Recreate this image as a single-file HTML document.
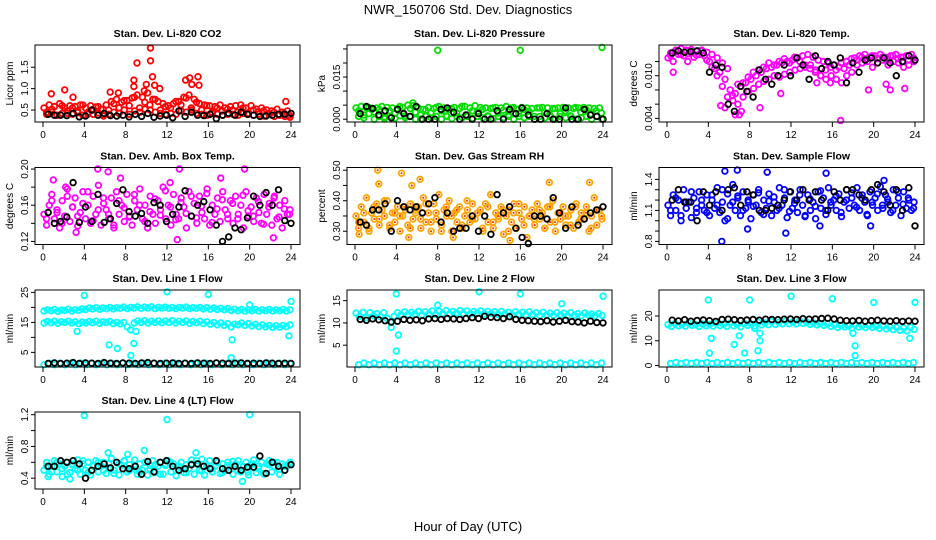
<!DOCTYPE html>
<html><head><meta charset="utf-8"><style>
html,body{margin:0;padding:0;background:#fff;width:936px;height:540px;overflow:hidden}
svg{display:block;font-family:"Liberation Sans",sans-serif}
</style></head><body>
<svg id="chart" width="936" height="540" viewBox="0 0 936 540" xmlns="http://www.w3.org/2000/svg">
<text x="468" y="14" text-anchor="middle" font-size="13">NWR_150706 Std. Dev. Diagnostics</text>
<text x="468" y="531" text-anchor="middle" font-size="13">Hour of Day (UTC)</text>
</svg>
<script>
const xTicks=[0,4,8,12,16,20,24];
// Panel 1 CO2
const co2Main=[.55,.40,.62,.45,.58,.38,.65,.42,.55,.48,.60,.40,.58,.44,.62,.38,.55,.45,.60,.40,.57,.43,.52,.38,.62,.40,.70,.45,.75,.42,.68,.50,.72,.40,.78,.48,.85,.45,.80,.52,.90,.50,.75,.45,.70,.42,.65,.40,.60,.42,.65,.40,.70,.48,.80,.45,.85,.50,.75,.42,.65,.40,.62,.38,.60,.42,.58,.40,.62,.38,.55,.40,.58,.40,.60,.38,.62,.42,.55,.40,.60,.38,.52,.40,.55,.36,.50,.40,.48,.35,.52,.38,.45,.35,.48,.33];
const co2Second=[.45,.52,.38,.60,.42,.55,.48,.62,.40,.50,.58,.36,.50,.65,.55,.72,.60,.80,.55,.68,.62,.75,.50,.58,.55,.70,.62,.78,.55,.68,.50,.60,.45,.55,.48,.52,.50,.45,.55,.42,.50,.46,.48,.42,.45,.40,.42,.38];
const co2Black=[.40,.38,.38,.37,.42,.34,.36,.50,.38,.42,.37,.36,.38,.34,.40,.35,.42,.33,.36,.38,.32,.48,.35,.45,.38,.37,.40,.30,.38,.42,.38,.45,.40,.38,.35,.36,.38,.40,.40,.42];
const co2OutHours=[0.8,2.1,2.9,7.3,8.8,8.8,9.1,9.8,10,10.4,10.4,10.6,10.8,11.3,13.8,14.2,14.4,15,15.1,23.5,6.5];
const co2OutVals=[0.88,0.97,0.8,0.9,1.2,1.05,1.6,0.95,1.1,1.95,1.65,1.28,1.08,1.0,1.2,1.25,1.1,1.28,1.08,0.7,0.92];
// Panel 2 pressure
const presMain=[.004,.001,.0045,.0005,.004,.002,.0035,0,.004,.001,.0045,.0002,.0042,.001,.004,.0003,.0038,.0012,.0042,.0005,.005,.001,.0048,0,.004,0,.0035,.001,.0042,.0005,.0038,.001,.0045,0,.004,.001,.0035,.0002,.0042,.001,.0038,.0005,.0045,.001,.004,.0003,.0048,.001,.0042,.0005,.004,.001,.0038,.0002,.0042,.001,.004,.0005,.0045,.001,.004,0,.0035,.001,.0042,.0005,.004,.001,.0038,0,.004,.001,.0042,.0005,.004,.001,.0038,0,.004,.001,.0042,.0005,.004,.001,.0038,0,.004,.0005,.0042,.001,.004,0,.0038,.001,.004,0];
const presSecond=[.003,.0015,.0042,.0025,.0035,.0008,.003,.002,.0045,.0012,.0038,.0025,.0015,.0032,.0022,.0042,.003,.0012,.0038,.0022,.0045,.0015,.003,.0025,.0035,.0012,.004,.0022,.0032,.0015,.0042,.002,.0035,.0028,.001,.004,.0025,.0015,.0038,.002,.003,.0012,.0042,.0025,.0035,.0018,.003,.0022];
const presBlack=[.002,.0045,.0038,.0015,.003,.0005,.0035,.002,.001,.0045,0,0,0,.0035,.004,.0025,0,.0015,0,.002,0,0,.003,0,.0035,.002,.004,.0015,0,0,.002,0,0,.004,0,0,.0035,.0015,.001,0];
const presOutHours=[8,16,23.9,5.6];
const presOutVals=[0.0245,0.0245,0.0255,0.0058];
// Panel 3 Li-820 temp
const ltMain=[.0125,.0132,.0120,.0136,.0130,.0138,.0128,.0135,.0131,.0137,.0126,.0134,.0130,.0136,.0128,.0133,.0120,.0130,.0110,.0125,.0105,.0118,.0095,.0110,.0080,.0065,.0075,.0060,.0085,.0070,.0090,.0078,.0095,.0082,.0100,.0088,.0105,.0092,.0110,.0095,.0112,.0100,.0115,.0098,.0118,.0102,.0120,.0105,.0122,.0108,.0125,.0110,.0128,.0112,.0130,.0115,.0126,.0108,.0122,.0100,.0120,.0095,.0118,.0100,.0115,.0095,.0112,.0090,.0110,.0100,.0115,.0105,.0125,.0115,.0128,.0118,.0130,.0120,.0126,.0112,.0128,.0118,.0130,.0122,.0126,.0115,.0128,.0120,.0130,.0118,.0126,.0112,.0128,.0115,.0130,.0120];
const ltSecond=[.0128,.0134,.0130,.0136,.0132,.0129,.0135,.0122,.0112,.0100,.0085,.0070,.0072,.0088,.0090,.0098,.0105,.0108,.0112,.0118,.0115,.0120,.0124,.0118,.0126,.0120,.0115,.0110,.0105,.0100,.0108,.0112,.0108,.0118,.0120,.0124,.0122,.0126,.0124,.0128,.0124,.0126,.0122,.0128,.0124,.0126,.0122,.0125];
const ltBlack=[.0132,.0135,.0133,.0134,.0135,.0132,.0105,.0115,.0112,.0060,.0050,.0085,.0078,.0070,.0108,.0095,.0088,.0100,.0115,.0100,.0125,.0115,.0095,.0128,.0110,.0120,.0115,.0125,.0090,.0118,.0105,.0122,.0125,.0118,.0125,.0118,.0100,.0120,.0128,.0122];
const ltOutHours=[0.6,5.2,5.6,6.6,7,7.2,9,11,16.8,15.8,14.5,19.5,21.2,21.6,23,2];
const ltOutVals=[.0105,.0058,.0055,.0045,.0045,.005,.0055,.0075,.0037,.009,.009,.008,.0088,.008,.0082,.012];
// Panel 4 amb box temp
const abMain=[.150,.138,.160,.172,.145,.155,.135,.165,.148,.178,.142,.158,.168,.137,.152,.175,.145,.160,.140,.170,.150,.182,.138,.162,.155,.145,.168,.135,.175,.150,.160,.142,.172,.148,.138,.165,.155,.178,.145,.160,.135,.170,.150,.140,.165,.155,.180,.145,.160,.138,.172,.150,.145,.168,.158,.135,.175,.148,.162,.140,.170,.152,.145,.178,.138,.160,.150,.168,.142,.175,.155,.145,.165,.140,.170,.150,.160,.135,.175,.148,.158,.142,.168,.152,.140,.172,.150,.162,.138,.170,.145,.160,.135,.165,.150,.155];
const abSecond=[.145,.165,.152,.140,.170,.158,.148,.162,.175,.143,.155,.168,.150,.138,.165,.157,.147,.172,.160,.142,.153,.167,.149,.176,.158,.144,.163,.151,.170,.146,.159,.173,.141,.156,.166,.150,.162,.145,.171,.154,.148,.164,.139,.158,.168,.147,.156,.150];
const abBlack=[.152,.140,.142,.147,.185,.141,.158,.142,.172,.141,.145,.162,.177,.153,.148,.151,.140,.163,.160,.142,.150,.158,.176,.148,.160,.164,.155,.138,.120,.125,.135,.133,.146,.170,.160,.174,.160,.177,.143,.140];
const abOutHours=[1,2.2,3.2,5.3,6.3,13.2,13,19.5,22.3,17.2,12.3,7.5];
const abOutVals=[.188,.18,.13,.2,.197,.2,.122,.2,.124,.19,.185,.19];
// Panel 5 RH
const rhMain=[.35,.31,.38,.33,.41,.30,.36,.34,.39,.32,.37,.35,.40,.31,.36,.33,.38,.30,.35,.37,.32,.39,.34,.36,.38,.31,.41,.33,.36,.30,.39,.34,.42,.32,.37,.35,.40,.30,.36,.33,.38,.31,.35,.37,.33,.39,.34,.36,.37,.30,.39,.33,.42,.31,.36,.34,.38,.29,.35,.37,.33,.39,.31,.36,.34,.38,.28,.35,.37,.32,.39,.34,.36,.31,.38,.33,.40,.30,.36,.34,.38,.32,.35,.37,.31,.39,.33,.36,.34,.38,.30,.35,.41,.32,.37,.34];
const rhSecond=[.33,.36,.31,.38,.34,.40,.32,.36,.35,.38,.31,.37,.34,.39,.33,.36,.30,.38,.35,.37,.32,.40,.34,.36,.31,.38,.33,.35,.37,.30,.36,.39,.32,.35,.34,.37,.31,.38,.33,.36,.35,.32,.38,.34,.36,.31,.37,.35];
const rhBlack=[.33,.32,.37,.37,.39,.30,.40,.38,.37,.38,.36,.39,.41,.33,.36,.30,.31,.31,.35,.30,.35,.29,.42,.36,.38,.31,.28,.26,.35,.35,.34,.41,.36,.31,.38,.32,.34,.36,.37,.38];
const rhOutHours=[0.4,2.2,2.3,4.5,5.5,6.3,9.5,18.8,22.7,15,5.2];
const rhOutVals=[.29,.5,.455,.49,.45,.47,.28,.46,.46,.27,.28];
// Panel 6 sample flow
const sfMain=[1.15,1.05,1.25,1.10,1.20,1.00,1.30,1.12,1.18,1.03,1.22,1.08,1.28,1.15,1.10,1.25,1.05,1.20,1.12,1.32,1.08,1.18,1.00,1.26,1.15,1.35,1.10,1.22,1.05,1.28,1.12,1.18,1.02,1.25,1.15,1.30,1.08,1.20,1.12,1.26,1.05,1.18,1.10,1.32,1.15,1.22,1.03,1.28,1.12,1.20,1.08,1.30,1.15,1.05,1.25,1.10,1.18,1.02,1.28,1.12,1.22,1.06,1.32,1.15,1.20,1.10,1.26,1.04,1.18,1.30,1.12,1.22,1.15,1.32,1.10,1.25,1.18,1.05,1.28,1.15,1.22,1.10,1.33,1.12,1.25,1.18,1.08,1.30,1.15,1.22,1.05,1.28,1.12,1.20,1.10,1.18];
const sfSecond=[1.10,1.22,1.05,1.18,1.28,1.12,1.20,1.08,1.25,1.15,1.30,1.02,1.18,1.24,1.10,1.20,1.14,1.27,1.06,1.19,1.23,1.12,1.30,1.09,1.17,1.25,1.04,1.21,1.14,1.29,1.10,1.18,1.24,1.08,1.20,1.27,1.13,1.22,1.06,1.18,1.26,1.15,1.21,1.10,1.28,1.16,1.22,1.12];
const sfBlack=[1.2,1.3,1.18,1.18,1.0,1.28,1.15,1.28,1.1,1.3,1.32,1.15,1.28,1.25,1.1,1.1,1.12,1.15,1.2,1.28,1.2,1.3,1.2,1.28,1.2,1.1,1.28,1.2,1.3,1.3,1.25,1.2,1.3,1.35,1.28,1.15,1.3,1.1,1.32,0.95];
const sfOutHours=[5.3,5.6,6.8,9.7,15.4,7.8,11.5,14.8,19.7,21];
const sfOutVals=[0.8,1.48,1.49,1.47,1.46,0.92,0.88,0.95,0.95,1.39];
// Panel 7 line 1
const l1Upper=[18.8,19.2,18.9,19.3,18.7,19.1,19.0,19.4,18.8,19.2,19.0,19.5,19.3,19.8,19.5,19.9,19.4,19.8,19.6,20.0,19.5,19.9,19.7,20.1,19.6,20.0,19.8,20.2,19.7,20.1,19.8,20.2,19.6,20.0,19.8,20.1,19.7,20.0,19.6,20.0,19.8,20.1,19.6,19.9,19.7,20.0,19.5,19.9,19.4,19.8,19.3,19.7,19.2,19.6,19.0,19.4,18.9,19.3,18.8,19.2,18.9,19.3,18.8,19.2,18.9,19.3,18.8,19.2,18.9,19.3,18.8,19.2];
const l1Middle=[14.8,15.3,14.9,15.4,14.7,15.2,15.0,15.4,14.8,15.2,14.6,15.1,14.8,15.3,14.9,15.4,14.7,15.2,15.0,15.3,14.6,15.0,14.5,15.0,13.5,12.5,14.8,15.5,15.0,15.6,14.8,15.4,15.0,15.5,14.9,15.5,15.0,15.6,14.8,15.4,15.0,15.5,14.7,15.3,14.9,15.4,14.6,15.2,14.4,15.0,14.2,14.8,14.0,14.6,13.5,14.4,14.2,14.8,14.0,14.6,13.8,14.4,13.6,14.2,13.5,14.0,13.3,13.9,13.4,14.0,13.6,14.2];
const l1Low=[0.9,1.4,0.9,1.4,0.9,1.4,0.9,1.4,0.9,1.4,0.9,1.4,0.9,1.4,0.9,1.4,0.9,1.4,0.9,1.4,0.9,1.4,0.9,1.4,0.9,1.4,0.9,1.4,0.9,1.4,0.9,1.4,0.9,1.4,0.9,1.4,0.9,1.4,0.9,1.4,0.9,1.4,0.9,1.4,0.9,1.4,0.9,1.4];
const l1Black=[1.3,1.5,1.3,1.4,1.6,1.3,1.5,1.4,1.3,1.6,1.4,1.3,1.5,1.4,1.3,1.5,1.6,1.4,1.3,1.4,1.5,1.3,1.4,1.3,1.5,1.4,1.3,1.5,1.4,1.3,1.4,1.5,1.3,1.4,1.3,1.5,1.4,1.3,1.4,1.3];
const l1OutHours=[4,12,16,24,3.3,6.4,7.2,8.5,8.8,9,18.3,18.2,20,23.8];
const l1OutVals=[24,25.2,24.3,22,12,7.5,6.3,4,8,12,9.2,3.2,20.8,10.5];
// Panel 8 line 2
const l2Upper=[12.2,11.5,12.4,11.2,12.3,11.6,12.1,11.4,12.3,11.0,10.2,11.5,12.3,11.8,12.5,11.9,12.4,12.0,12.6,11.8,12.5,12.0,12.7,11.9,12.6,12.1,12.8,12.0,12.6,12.2,12.8,12.1,12.7,12.0,12.6,12.2,12.7,12.0,12.6,12.1,12.5,11.9,12.6,12.0,12.4,11.8,12.5,11.9,12.4,11.8,12.5,11.9,12.3,11.7,12.4,11.8,12.2,11.7,12.3,11.8,12.2,11.6,12.3,11.7,12.1,11.6,12.2,11.8,12.0,11.6,12.1,11.7];
const l2Low=[0.6,1.0,0.6,1.0,0.6,1.0,0.6,1.0,0.6,1.0,0.6,1.0,0.6,1.0,0.6,1.0,0.6,1.0,0.6,1.0,0.6,1.0,0.6,1.0,0.6,1.0,0.6,1.0,0.6,1.0,0.6,1.0,0.6,1.0,0.6,1.0,0.6,1.0,0.6,1.0,0.6,1.0,0.6,1.0,0.6,1.0,0.6,1.0];
const l2Black=[10.8,10.6,10.9,10.7,10.5,10.2,10.4,10.8,10.6,10.7,10.5,10.9,11.0,10.8,11.0,10.9,10.8,11.0,11.2,11.0,11.5,11.3,11.2,11.0,11.4,10.8,10.6,10.5,10.4,10.3,10.5,10.2,10.4,10.6,10.3,10.2,10.0,10.4,10.1,10.0];
const l2OutHours=[4,12,16,24,4.2,4,8,20,3.5];
const l2OutVals=[16.5,17,16.5,16,7.3,3.7,14,14.3,9];
// Panel 9 line 3
const l3Upper=[16.5,15.8,17.0,16.0,16.6,15.9,17.1,16.2,16.5,15.8,16.8,16.0,16.6,15.9,17.0,16.1,16.7,15.8,17.2,16.0,16.5,15.6,17.0,16.2,16.8,16.0,17.5,16.4,17.2,16.5,17.8,16.6,17.5,16.8,18.0,16.9,17.6,16.8,18.2,17.0,17.5,16.6,17.2,16.4,17.0,16.2,16.8,15.8,16.5,15.4,16.2,15.6,16.0,15.2,16.4,15.5,16.1,15.3,16.2,15.4,15.8,15.0,16.0,14.8,15.6,14.5,15.4,14.2,15.2,14.0,15.5,14.6];
const l3Low=[0.8,1.2,0.8,1.2,0.8,1.2,0.8,1.2,0.8,1.2,0.8,1.2,0.8,1.2,0.8,1.2,0.8,1.2,0.8,1.2,0.8,1.2,0.8,1.2,0.8,1.2,0.8,1.2,0.8,1.2,0.8,1.2,0.8,1.2,0.8,1.2,0.8,1.2,0.8,1.2,0.8,1.2,0.8,1.2,0.8,1.2,0.8,1.2];
const l3Black=[18.3,18.0,18.5,17.9,18.2,18.4,18.1,17.8,18.6,18.7,18.5,18.2,18.4,18.6,18.3,18.7,18.6,18.5,18.7,18.8,18.6,18.9,18.7,18.8,19.0,19.1,18.8,18.3,18.1,18.0,18.2,17.9,18.1,18.3,18.0,17.9,18.1,17.8,18.0,17.9];
const l3OutHours=[4,8,12,16,20,24,4.1,4.3,6.5,7,7.5,8.8,9,9,18.2,18.2,18,23.5,8.5];
const l3OutVals=[26.5,26.5,28,27,25.5,25.5,5,11,8.5,12,5,6,10,13,4,8,13,11,15];
// Panel 10 line 4
const l4Main=[.50,.60,.45,.55,.62,.48,.58,.42,.55,.60,.47,.57,.52,.63,.45,.58,.50,.60,.44,.56,.62,.48,.55,.60,.46,.58,.65,.50,.60,.44,.56,.62,.48,.57,.52,.63,.45,.58,.50,.60,.44,.56,.62,.47,.55,.60,.45,.58,.62,.48,.58,.43,.55,.60,.47,.57,.52,.63,.45,.58,.50,.64,.44,.56,.62,.48,.55,.60,.46,.58,.50,.60,.55,.45,.58,.62,.48,.55,.60,.44,.57,.63,.47,.55,.60,.45,.58,.62,.48,.55,.60,.45,.58,.50,.56,.60];
const l4Second=[.55,.48,.60,.52,.45,.58,.50,.62,.47,.55,.60,.50,.53,.46,.58,.62,.50,.55,.48,.60,.52,.57,.45,.56,.60,.50,.54,.47,.58,.62,.49,.55,.52,.60,.47,.56,.61,.50,.54,.48,.58,.52,.46,.57,.60,.51,.55,.58];
const l4Black=[.55,.55,.62,.60,.62,.58,.40,.50,.55,.58,.53,.60,.52,.52,.55,.45,.61,.48,.60,.62,.55,.50,.52,.57,.58,.55,.52,.62,.52,.50,.55,.50,.54,.54,.68,.46,.60,.55,.50,.57];
const l4OutHours=[4,12,20,9.8,6.3,8.2,14.8,19.3,0.5,2.6];
const l4OutVals=[1.19,1.14,1.2,.75,.72,.7,.72,.36,.42,.39];

const CYAN="#00ffff",MAG="#ff00ff";
const panels=[
 {name:"co2",title:"Stan. Dev. Li-820 CO2",ylab:"Licor ppm",c:0,r:0,ymin:0.22,ymax:2.02,ticks:[0.5,1.0,1.5],labels:["0.5","1.0","1.5"],
  series:[[co2Main,"#ff0000"],[co2Second,"#ff0000"]],out:[co2OutHours,co2OutVals,"#ff0000"],black:co2Black},
 {name:"pressure",title:"Stan. Dev. Li-820 Pressure",ylab:"kPa",c:1,r:0,ymin:-0.001,ymax:0.0264,ticks:[0,0.005,0.010,0.015,0.020,0.025],labels:["0.000","","","0.015","",""],
  series:[[presMain,"#00dd00"],[presSecond,"#00dd00"]],out:[presOutHours,presOutVals,"#00dd00"],black:presBlack},
 {name:"li820-temp",title:"Stan. Dev. Li-820 Temp.",ylab:"degrees C",c:2,r:0,ymin:0.00349,ymax:0.01432,ticks:[0.004,0.006,0.008,0.010,0.012],labels:["0.004","","","0.010",""],
  series:[[ltMain,MAG],[ltSecond,MAG]],out:[ltOutHours,ltOutVals,MAG],black:ltBlack},
 {name:"amb-box-temp",title:"Stan. Dev. Amb. Box Temp.",ylab:"degrees C",c:0,r:1,ymin:0.1166,ymax:0.2017,ticks:[0.12,0.14,0.16,0.18,0.20],labels:["0.12","","0.16","","0.20"],
  series:[[abMain,MAG],[abSecond,MAG]],out:[abOutHours,abOutVals,MAG],black:abBlack},
 {name:"gas-rh",title:"Stan. Dev. Gas Stream RH",ylab:"percent",c:1,r:1,ymin:0.2566,ymax:0.5088,ticks:[0.30,0.35,0.40,0.45,0.50],labels:["0.30","","0.40","","0.50"],
  series:[[rhMain,"#ffa500"],[rhSecond,"#ffa500"]],out:[rhOutHours,rhOutVals,"#ffa500"],black:rhBlack,dot:"#ff2000"},
 {name:"sample-flow",title:"Stan. Dev. Sample Flow",ylab:"ml/min",c:2,r:1,ymin:0.77,ymax:1.515,ticks:[0.8,0.9,1.0,1.1,1.2,1.3,1.4],labels:["0.8","","","1.1","","","1.4"],
  series:[[sfMain,"#0000ff"],[sfSecond,"#0000ff"]],out:[sfOutHours,sfOutVals,"#0000ff"],black:sfBlack},
 {name:"line1-flow",title:"Stan. Dev. Line 1 Flow",ylab:"ml/min",c:0,r:2,ymin:0.13,ymax:25.8,ticks:[5,10,15,20,25],labels:["5","","15","","25"],
  series:[[l1Upper,CYAN],[l1Middle,CYAN],[l1Low,CYAN]],out:[l1OutHours,l1OutVals,CYAN],black:l1Black},
 {name:"line2-flow",title:"Stan. Dev. Line 2 Flow",ylab:"ml/min",c:1,r:2,ymin:0.1,ymax:17.4,ticks:[5,10,15],labels:["5","10","15"],
  series:[[l2Upper,CYAN],[l2Low,CYAN]],out:[l2OutHours,l2OutVals,CYAN],black:l2Black},
 {name:"line3-flow",title:"Stan. Dev. Line 3 Flow",ylab:"ml/min",c:2,r:2,ymin:-0.6,ymax:30.5,ticks:[0,10,20],labels:["0","10","20"],
  series:[[l3Upper,CYAN],[l3Low,CYAN]],out:[l3OutHours,l3OutVals,CYAN],black:l3Black},
 {name:"line4-flow",title:"Stan. Dev. Line 4 (LT) Flow",ylab:"ml/min",c:0,r:3,ymin:0.264,ymax:1.234,ticks:[0.4,0.6,0.8,1.0,1.2],labels:["0.4","","0.8","","1.2"],
  series:[[l4Main,CYAN],[l4Second,CYAN]],out:[l4OutHours,l4OutVals,CYAN],black:l4Black}
];
const NS="http://www.w3.org/2000/svg";
const svg=document.getElementById("chart");
function mk(tag,attrs,parent){const e=document.createElementNS(NS,tag);for(const k in attrs)e.setAttribute(k,attrs[k]);parent.appendChild(e);return e;}
const rowTops=[45,167.5,290,412], BH=77, BW=265;
panels.forEach(p=>{
  const ox=35+p.c*312, oy=rowTops[p.r];
  const g=mk("g",{},svg);
  
  
  const xs=h=>ox+8+h*(248/24);
  const ys=v=>oy+BH-(v-p.ymin)/(p.ymax-p.ymin)*BH;
  const t=mk("text",{x:ox+BW/2,y:oy-8,"text-anchor":"middle","font-size":"10.5","font-weight":"bold"},g);
  t.textContent=p.title;
  
  
  const yl=mk("text",{x:0,y:0,"text-anchor":"middle","font-size":"10",transform:`translate(${ox-22},${oy+BH/2}) rotate(-90)`},g);
  yl.textContent=p.ylab;
  
  
  const pg=mk("g",{fill:"none","stroke-width":"1.8"},g);
  
  
  const dot=(h,v,col)=>{
    const cy=ys(v); if(cy<oy-1||cy>oy+BH+1) return;
    const c=mk("circle",{cx:xs(h).toFixed(1),cy:cy.toFixed(1),r:"2.8",stroke:col},pg);
    
    
    if(p.dot && col!=="#000"){const d=mk("circle",{cx:xs(h).toFixed(1),cy:cy.toFixed(1),r:"1",fill:p.dot,stroke:"none"},pg);
      
      }
  };
  p.series.forEach(([vals,col],si)=>{
    const s0 = si===1 && vals.length===48 ? 0.35 : 0.1;
    const s1 = si===1 && vals.length===48 ? 23.85 : 23.9;
    vals.forEach((v,i)=>dot(s0+i*(s1-s0)/(vals.length-1),v,col));
  });
  p.out[0].forEach((h,i)=>dot(h,p.out[1][i],p.out[2]));
  p.black.forEach((v,i)=>dot(0.5+i*23.5/(p.black.length-1),v,"#000"));
  const box=mk("rect",{x:ox,y:oy,width:BW,height:BH,fill:"none",stroke:"#000","stroke-width":"1"},g);
  
  
  const ax=mk("g",{stroke:"#000","stroke-width":"1"},g);
  
  
  xTicks.forEach(h=>{
    mk("line",{x1:xs(h),x2:xs(h),y1:oy+BH,y2:oy+BH+5},ax);
    const tl=mk("text",{x:xs(h),y:oy+BH+16,"text-anchor":"middle","font-size":"10",stroke:"none"},g);
    tl.textContent=h;
    
    
  });
  p.ticks.forEach((v,i)=>{
    const y=ys(v);
    mk("line",{x1:ox-4,x2:ox,y1:y,y2:y},ax);
    if(p.labels[i]){
      const tl=mk("text",{x:0,y:0,"text-anchor":"middle","font-size":"10",transform:`translate(${ox-7},${y}) rotate(-90)`},g);
      tl.textContent=p.labels[i];
      
      
    }
  });
});
</script>
</body></html>
